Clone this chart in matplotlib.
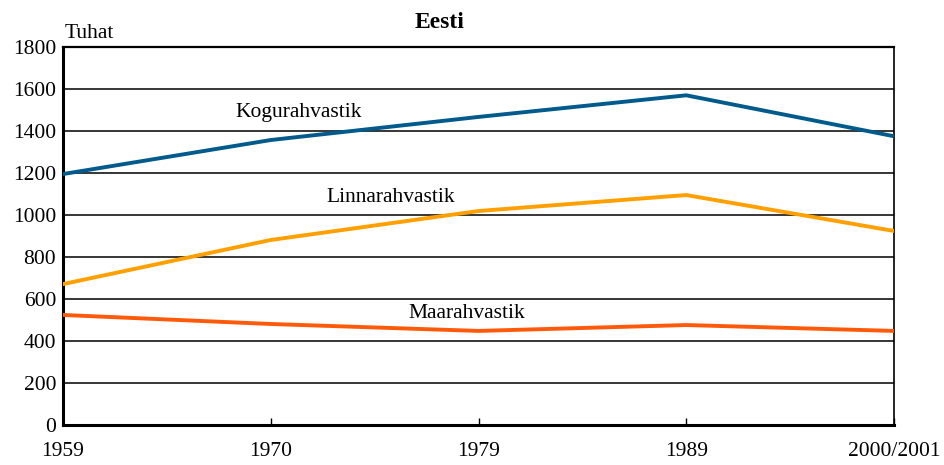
import matplotlib
matplotlib.use("Agg")
import matplotlib.pyplot as plt

categories = ["1959", "1970", "1979", "1989", "2000/2001"]
kogu = [1195, 1357, 1467, 1570, 1375]
linna = [671, 881, 1019, 1095, 924]
maa = [524, 481, 448, 476, 448]
yticks = [0, 200, 400, 600, 800, 1000, 1200, 1400, 1600, 1800]

plt.rcParams['font.family'] = ['Liberation Serif', 'DejaVu Serif']

fig = plt.figure(figsize=(9.44, 4.65), dpi=100)
ax = fig.add_axes([63/944, 1-425/465, (894-63)/944, (425-47)/465])

x = list(range(len(categories)))
ax.plot(x, kogu, color="#005A8C", lw=2.8, zorder=3)
ax.plot(x, linna, color="#FFA000", lw=2.8, zorder=3)
ax.plot(x, maa, color="#FF5A0A", lw=2.8, zorder=3)

ax.set_xlim(0, 4)
ax.set_ylim(0, 1800)
ax.set_yticks(yticks)
ax.set_yticklabels([str(v) for v in yticks], fontsize=15.5)
ax.set_xticks(x)
ax.set_xticklabels(categories, fontsize=15.5)
ax.tick_params(axis='y', length=0, pad=5)
ax.tick_params(axis='x', direction='in', length=5, width=1, pad=12)
for v in yticks[1:]:
    ax.axhline(v, color='black', lw=1.1, zorder=1)

ax.spines['left'].set_linewidth(2.2)
ax.spines['bottom'].set_linewidth(2.2)
ax.spines['right'].set_linewidth(1.2)
ax.spines['top'].set_linewidth(1.6)

ax.text(1.136, 1486, "Kogurahvastik", ha='center', va='center', fontsize=15.5)
ax.text(1.579, 1081, "Linnarahvastik", ha='center', va='center', fontsize=15.5)
ax.text(1.945, 529, "Maarahvastik", ha='center', va='center', fontsize=15.5)

fig.text(440/944, 1-22/465, "Eesti", ha='center', va='center', fontsize=17, fontweight='bold')
fig.text(65/944, 1-34/465, "Tuhat", ha='left', va='center', fontsize=15.5)

fig.savefig("out.png", dpi=100)
